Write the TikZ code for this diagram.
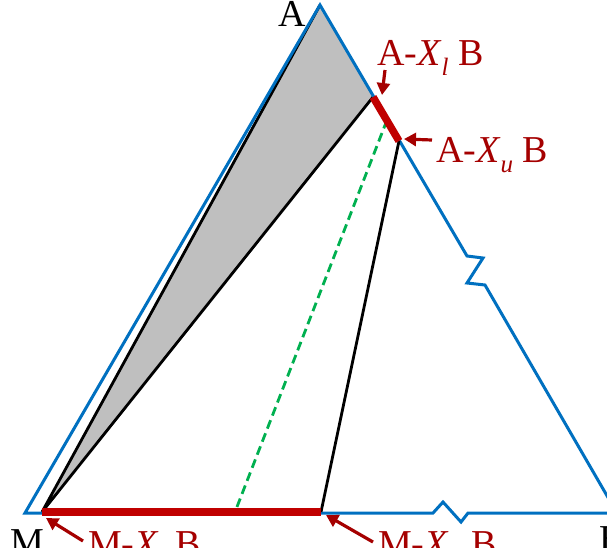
\documentclass[tikz,border=0pt]{standalone}
\usepackage{fontspec}
\setmainfont{Liberation Serif}
\usepackage{xcolor}
\usepackage{tikz}
\usetikzlibrary{arrows.meta,calc}
\definecolor{edgeblue}{RGB}{0,112,192}
\definecolor{rangered}{RGB}{192,0,0}
\definecolor{labelred}{RGB}{165,0,0}
\definecolor{shadegr}{RGB}{191,191,191}
\definecolor{tieGreen}{RGB}{0,176,80}
\newcommand{\subl}[1]{\raisebox{-0.28em}{\fontsize{25}{27}\selectfont\textit{#1}}}

\begin{document}
\begin{tikzpicture}[x=1pt,y=-1pt,
    every node/.style={font=\fontsize{38}{40}\selectfont,inner sep=0pt},
    redlabel/.style={labelred,anchor=base west},
    pointer/.style={labelred,line width=3.2pt,-{Triangle[length=12pt,width=13pt]}}]

    \useasboundingbox (0,0) rectangle (607,547);

    % Corner points of the composition triangle
    \coordinate (M) at (42,512);
    \coordinate (A) at (320,5);
    \coordinate (Xl) at (373,97);
    \coordinate (Xu) at (399,141);
    \coordinate (Xb) at (321,512);
    \coordinate (tieTop) at (387,120);
    \coordinate (tieBot) at (235,512);

    % Shaded region
    \fill[shadegr] (M) -- (A) -- (Xl) -- cycle;
    \draw[black,line width=2.8pt] (A) -- (M) -- (Xl);

    % Blue outline with breaks
    \draw[edgeblue,line width=3pt,line join=miter]
      (25,513) -- (A) -- (467,256) -- (483,258) -- (467,283) -- (485,285)
      -- (617,513) -- (468,513) -- (461,522) -- (443,502) -- (433,513) -- cycle;

    % Tie line and upper boundary line
    \draw[tieGreen,line width=2.8pt,dash pattern=on 9pt off 5pt] (tieTop) -- (tieBot);
    \draw[black,line width=2.8pt] (Xu) -- (Xb);

    % Red ranges
    \draw[rangered,line width=7.5pt] (Xl) -- (Xu);
    \draw[rangered,line width=7.5pt] (M) -- (Xb);

    % Corner labels
    \node[anchor=base west] (labA) at (278,26) {A};
    \node[anchor=base west] (labM) at (10,554) {M};
    \node[anchor=base west] (labB) at (599,551) {B};

    % Range labels
    \node[redlabel] (labAl) at (377,65) {A-\textit{X}\subl{l} B};
    \node[redlabel] (labAu) at (436,162) {A-\textit{X}\subl{u} B};
    \node[redlabel] (labMl) at (88,556) {M-\textit{X}\subl{l} B};
    \node[redlabel] (labMu) at (378,556) {M-\textit{X}\subl{u} B};

    % Pointers
    \coordinate (tAl) at (385,70);
    \coordinate (hAl) at (382,95);
    \coordinate (tAu) at (432,140);
    \coordinate (hAu) at (404,139);
    \coordinate (tMl) at (83,541);
    \coordinate (hMl) at (46,518);
    \coordinate (tMu) at (373,542);
    \coordinate (hMu) at (326,515);
    \draw[pointer] (tAl) -- (hAl);
    \draw[pointer] (tAu) -- (hAu);
    \draw[pointer] (tMl) -- (hMl);
    \draw[pointer] (tMu) -- (hMu);

  \end{tikzpicture}
\end{document}
